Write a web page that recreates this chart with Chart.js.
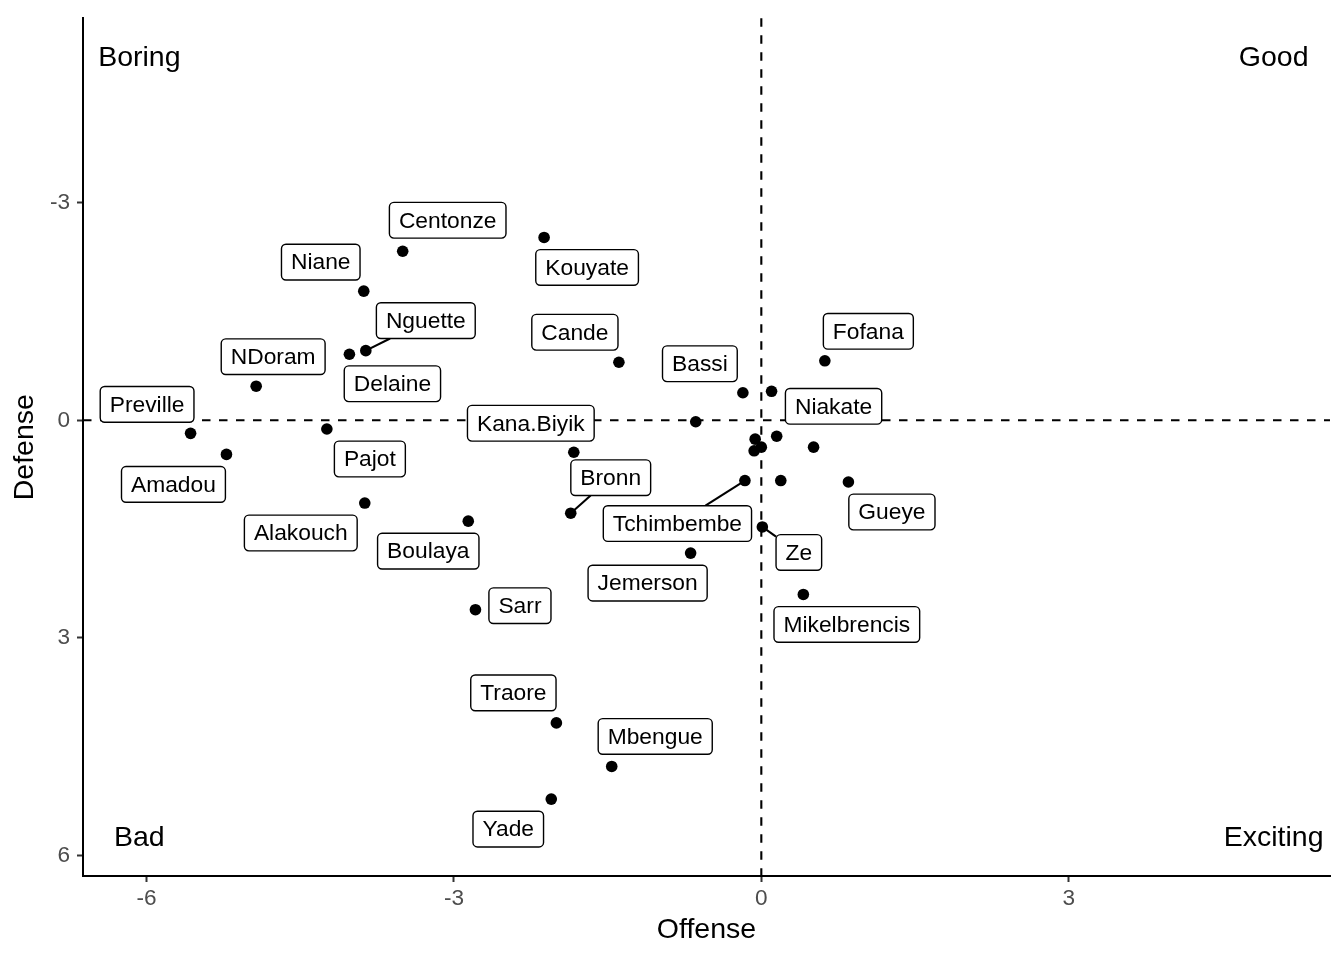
<!DOCTYPE html>
<html>
<head>
<meta charset="utf-8">
<script src="https://cdn.jsdelivr.net/npm/chart.js@4.4.1/dist/chart.umd.min.js"></script>
<style>
  html, body { margin: 0; padding: 0; background: #fff; }
  #wrap { width: 1344px; height: 960px; position: relative; }
</style>
</head>
<body>
<div id="wrap"><canvas id="chart"></canvas></div>
<script>
// players without a name had their label dropped in the original plot
const players = ["Centonze", "Kouyate", "Niane", "Nguette", "Delaine", "NDoram", "Cande", "Bassi",
  "Niakate", "Fofana", "Preville", "Amadou", "Pajot", "", "Kana.Biyik", "", "", "", "", "",
  "Bronn", "Alakouch", "Boulaya", "Tchimbembe", "", "Gueye", "Ze", "Jemerson", "Mikelbrencis",
  "Sarr", "Traore", "Mbengue", "Yade"];
const offense = [-3.50, -2.12, -3.88, -3.86, -4.02, -4.93, -1.39, -0.18, 0.10, 0.62, -5.57, -5.22,
  -4.24, -0.64, -1.83, 0.15, -0.06, 0.00, -0.07, 0.51, -1.86, -3.87, -2.86, -0.16, 0.19, 0.85,
  0.01, -0.69, 0.41, -2.79, -2.00, -1.46, -2.05];
const defense = [-2.33, -2.52, -1.78, -0.96, -0.91, -0.47, -0.80, -0.38, -0.40, -0.82, 0.18, 0.47,
  0.12, 0.02, 0.44, 0.22, 0.26, 0.37, 0.42, 0.37, 1.28, 1.14, 1.39, 0.83, 0.83, 0.85, 1.47, 1.83,
  2.40, 2.61, 4.17, 4.77, 5.22];
const xTicks = [-6, -3, 0, 3];
const yTicks = [-3, 0, 3, 6];
const quadrantNames = ["Boring", "Good", "Bad", "Exciting"];

// layout: where the quadrant captions sit (data units) and label box nudges (px)
const quadrantAt = [[-6.07, -5], [5, -5], [-6.07, 5.74], [5, 5.74]];
const labelNudge = [[45, -31], [43, 30], [-43, -29], [60, -30], [43, 29.5], [17, -29.5], [-44, -30],
  [-43, -29], [62, 15], [43.5, -29.5], [-43.5, -29], [-53, 30], [43, 30], null, [-43, -29],
  null, null, null, null, null, [40, -35.5], [-64, 30], [-40, 30], [-67.5, 43], null, [43.5, 30],
  [36.5, 25.5], [-43, 30], [43.5, 30], [44.5, -4], [-43, -30], [43.5, -30], [-43, 30]];
const withSegment = ["Nguette", "Bronn", "Tchimbembe", "Ze"];

const FONT = "'Liberation Sans', Arial, Helvetica, sans-serif";

const refLines = {
  id: "refLines",
  beforeDatasetsDraw(chart) {
    const { ctx, chartArea: a, scales: { x, y } } = chart;
    ctx.save();
    ctx.strokeStyle = "#000";
    ctx.lineWidth = 2.1;
    ctx.setLineDash([8.5, 8.5]);
    const px = x.getPixelForValue(0);
    const py = y.getPixelForValue(0);
    ctx.beginPath();
    ctx.moveTo(px, a.top); ctx.lineTo(px, a.bottom);
    ctx.moveTo(a.left, py); ctx.lineTo(a.right, py);
    ctx.stroke();
    ctx.restore();
  }
};

function roundRect(ctx, x, y, w, h, r) {
  ctx.beginPath();
  ctx.moveTo(x + r, y);
  ctx.arcTo(x + w, y, x + w, y + h, r);
  ctx.arcTo(x + w, y + h, x, y + h, r);
  ctx.arcTo(x, y + h, x, y, r);
  ctx.arcTo(x, y, x + w, y, r);
  ctx.closePath();
}

const boxLabels = {
  id: "boxLabels",
  afterDatasetsDraw(chart) {
    const { ctx, scales: { x, y } } = chart;
    ctx.save();
    ctx.font = "22.8px " + FONT;
    ctx.textAlign = "center";
    ctx.textBaseline = "middle";
    const h = 35.7, pad = 9.5;
    players.forEach((name, i) => {
      const nudge = labelNudge[i];
      if (!name || !nudge) return;
      const px = x.getPixelForValue(offense[i]);
      const py = y.getPixelForValue(defense[i]);
      const cx = px + nudge[0], cy = py + nudge[1];
      const w = ctx.measureText(name).width + 2 * pad;
      if (withSegment.includes(name)) {
        // clip the line point -> centre at the box edge
        const dx = cx - px, dy = cy - py;
        const tx = dx ? 1 - (w / 2) / Math.abs(dx) : 0;
        const ty = dy ? 1 - (h / 2) / Math.abs(dy) : 0;
        const t = Math.max(0, Math.max(tx, ty));
        ctx.strokeStyle = "#000";
        ctx.lineWidth = 2.1;
        ctx.beginPath();
        ctx.moveTo(px, py);
        ctx.lineTo(px + dx * t, py + dy * t);
        ctx.stroke();
      }
      roundRect(ctx, cx - w / 2, cy - h / 2, w, h, 4.5);
      ctx.fillStyle = "#fff";
      ctx.fill();
      ctx.lineWidth = 1.4;
      ctx.strokeStyle = "#000";
      ctx.stroke();
      ctx.fillStyle = "#000";
      ctx.fillText(name, cx, cy + 1);
    });
    ctx.font = "28.5px " + FONT;
    quadrantNames.forEach((q, i) => {
      ctx.fillText(q, x.getPixelForValue(quadrantAt[i][0]), y.getPixelForValue(quadrantAt[i][1]) + 1);
    });
    ctx.restore();
  }
};

new Chart(document.getElementById("chart"), {
  type: "scatter",
  data: {
    datasets: [{
      data: offense.map((v, i) => ({ x: v, y: defense[i] })),
      backgroundColor: "#000",
      borderWidth: 0,
      pointRadius: 5.8,
      pointHoverRadius: 5.8
    }]
  },
  options: {
    responsive: true,
    maintainAspectRatio: false,
    animation: false,
    events: [],
    layout: { padding: { left: 0, right: 14, top: 11.4, bottom: 0 } },
    plugins: { legend: { display: false }, tooltip: { enabled: false } },
    scales: {
      x: {
        min: -6.62, max: 5.55,
        afterBuildTicks: (s) => { s.ticks = xTicks.map((v) => ({ value: v })); },
        afterFit: (s) => { s.height = 84; },
        grid: { drawOnChartArea: false, drawTicks: true, tickLength: 6, tickColor: "#333", tickWidth: 2 },
        border: { color: "#000", width: 2 },
        ticks: { color: "#4d4d4d", font: { family: FONT, size: 22.6, lineHeight: 1 }, padding: 5.5 },
        title: { display: true, text: "Offense", color: "#000", font: { family: FONT, size: 28.5 },
          padding: { top: 0, bottom: 12.9 } }
      },
      y: {
        min: -5.54, max: 6.28, reverse: true,
        afterBuildTicks: (s) => { s.ticks = yTicks.map((v) => ({ value: v })); },
        afterFit: (s) => { s.width = 83; },
        grid: { drawOnChartArea: false, drawTicks: true, tickLength: 6, tickColor: "#333", tickWidth: 2 },
        border: { color: "#000", width: 2 },
        ticks: { color: "#4d4d4d", font: { family: FONT, size: 22.6, lineHeight: 1 }, padding: 7 },
        title: { display: true, text: "Defense", color: "#000", font: { family: FONT, size: 28.5 },
          padding: { top: 7.9, bottom: 0 } }
      }
    }
  },
  plugins: [refLines, boxLabels]
});
</script>
</body>
</html>
